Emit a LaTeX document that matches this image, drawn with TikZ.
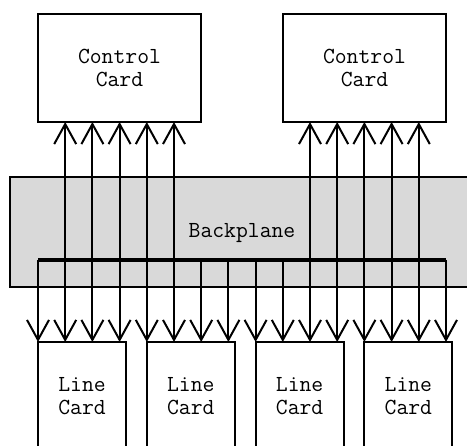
\documentclass[tikz,border=0pt]{standalone}
\usepackage{fontspec}
\usetikzlibrary{arrows.meta}
\definecolor{planegray}{gray}{0.85}

\begin{document}
\begin{tikzpicture}[x=1pt, y=-1pt, line width=2pt,
    every node/.style={font=\ttfamily\fontsize{23}{23}\selectfont, align=center},
    card/.style={draw, fill=white, inner sep=0pt, outer sep=0pt},
    ctrlcard/.style={card, minimum width=163pt, minimum height=108pt},
    linecard/.style={card, minimum width=88pt, minimum height=108pt},
    sig/.style={-{Straight Barb[length=20pt, width=22pt]}}]
    \useasboundingbox (0,0) rectangle (467,446);
    \clip (0,0) rectangle (467,446);

    \fill[planegray] (10,177) rectangle (480,287);
    \draw (480,177) -- (10,177) -- (10,287) -- (480,287);
    \node (bplabel) at (242,233) {Backplane};

    \coordinate (busW) at (38,260);
    \coordinate (busE) at (446,260);

    \node[ctrlcard] (ctrlA) at (119.5,68) {Control\\Card};
    \node[ctrlcard] (ctrlB) at (364.5,68) {Control\\Card};

    \foreach \n in {0,...,3}
        \node[linecard, anchor=north west] (line\n) at (38+108.8*\n,342) {Line\\Card};

    % up to the control cards
    \foreach \i [evaluate=\i as \x using 38+27.2*\i] in {1,...,5}
        \draw[sig] (\x,0 |- busW) -- (\x,0 |- ctrlA.south);
    \foreach \i [evaluate=\i as \x using 38+27.2*\i] in {10,...,14}
        \draw[sig] (\x,0 |- busW) -- (\x,0 |- ctrlB.south);

    % down to the line cards
    \foreach \i in {0,...,15} {
        \pgfmathsetmacro{\x}{38+27.2*\i}
        \pgfmathtruncatemacro{\n}{\i/4}
        \draw[sig] (\x,0 |- busW) -- (\x,0 |- line\n.north);
    }

    \draw[line width=4.5pt] (busW) -- (busE);
\end{tikzpicture}
\end{document}
